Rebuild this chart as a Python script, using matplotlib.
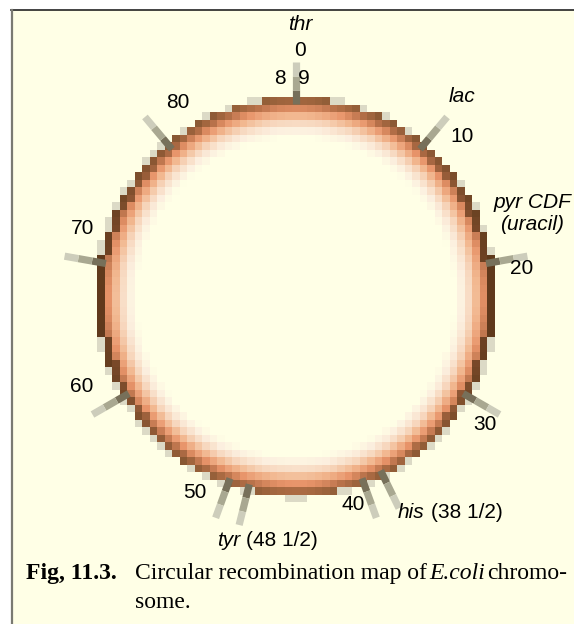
import numpy as np
import matplotlib
matplotlib.use('Agg')
import matplotlib.pyplot as plt
from matplotlib.patches import Rectangle
from matplotlib.colors import LinearSegmentedColormap, to_rgb, to_rgba

# Map data (E. coli map, 90 minutes total)
map_length = 90
scale_marks = [0, 10, 20, 30, 40, 50, 60, 70, 80]
scale_labels = ['0', '10', '20', '30', '40', '50', '60', '70', '80']
gene_names = ['thr', 'lac', 'pyr CDF', 'his', 'tyr']
gene_notes = ['', '', '(uracil)', '(38 1/2)', '(48 1/2)']
gene_marks = [38.5, 48.5]   # genes that get their own tick
end_label = '8  9'

# Layout (pixels)
W, H = 574, 624
cx, cy, R = 296, 297, 199
ring_width = 40
cell = 7.5
tick_in, tick_out = R - 6, R + 36
bg = '#ffffe6'

scale_pos = {'0': (300, 50), '10': (462, 137), '20': (522, 269), '30': (485, 424),
             '40': (353, 505), '50': (195, 493), '60': (82, 387), '70': (83, 228),
             '80': (178, 102)}
gene_pos = {'thr': (300, 25, 'center'), 'lac': (462, 97, 'center'),
            'pyr CDF': (532, 202, 'center'), 'his': (398, 513, 'left'),
            'tyr': (217, 540, 'left')}

fig = plt.figure(figsize=(W / 100, H / 100), dpi=100)
fig.patch.set_facecolor('white')
ax = fig.add_axes([0, 0, 1, 1])
ax.axis('off')

# panel background and frame
ax.add_patch(Rectangle((11, 10), W, H, facecolor=bg, edgecolor='none', zorder=0))
ax.plot([11, W], [10, 10], color='#222222', lw=1.2, zorder=1)
ax.plot([11.5, 11.5], [10, H], color='#7a7a72', lw=1.6, zorder=1)

# pixelated ring
nx, ny = int(W / cell) + 1, int(H / cell) + 1
X, Y = np.meshgrid((np.arange(nx) + 0.5) * cell, (np.arange(ny) + 0.5) * cell)
r = np.hypot(X - cx, Y - cy)
theta = np.arctan2(X - cx, -(Y - cy))
t = (R - r) / ring_width
ring_cmap = LinearSegmentedColormap.from_list('ring', [
    (0.0, '#8e5c36'), (0.17, '#b8724a'), (0.3, '#e8946a'), (0.45, '#f2b890'),
    (0.6, '#f7d6bc'), (0.8, '#fcefdf'), (1.0, bg)])
rgba = ring_cmap(np.clip(t, 0, 1))
side = np.abs(np.sin(theta)) ** 4
outer = (t >= 0) & (t < 0.19)
dark = np.array(to_rgb('#4a2a10'))
w = (side * 0.75)[outer][:, None]
rgba[outer, :3] = rgba[outer, :3] * (1 - w) + dark * w
halo = (t < 0) & (t > -0.08)
rgba[halo] = to_rgba('#dcdac6')
rgba[(t <= -0.08) | (t >= 1), 3] = 0
ax.imshow(rgba, extent=(0, nx * cell, ny * cell, 0), interpolation='nearest', zorder=2)

# tick marks
tick_positions = scale_marks + gene_marks
seg_colors = ['#77705a', '#a9a891', '#cdcdbb']
for m in tick_positions:
    a = np.deg2rad(m / map_length * 360)
    edges = np.linspace(tick_in, tick_out, len(seg_colors) + 1)
    for k, c in enumerate(seg_colors):
        r0, r1 = edges[k], edges[k + 1]
        ax.plot([cx + r0 * np.sin(a), cx + r1 * np.sin(a)],
                [cy - r0 * np.cos(a), cy - r1 * np.cos(a)],
                color=c, lw=5.2, solid_capstyle='butt', zorder=3)

sans = 'Liberation Sans'
fs = 15
for lab in scale_labels:
    x, y = scale_pos[lab]
    ax.text(x, y, lab, fontsize=fs, family=sans, ha='center', va='center', zorder=4)
ax.text(292.5, 78, end_label, fontsize=fs, family=sans, ha='center', va='center', zorder=4)

fig.canvas.draw()
renderer = fig.canvas.get_renderer()
for name, note in zip(gene_names, gene_notes):
    x, y, ha = gene_pos[name]
    if name == 'pyr CDF':
        ax.text(x, y, name, fontsize=fs, family=sans, style='italic', ha='center', va='center')
        ax.text(x, y + 22, note, fontsize=fs, family=sans, style='italic', ha='center', va='center')
        continue
    t1 = ax.text(x, y, name, fontsize=fs, family=sans, style='italic', ha=ha, va='center')
    if note:
        w1 = t1.get_window_extent(renderer).width
        ax.text(x + w1 + fs * 1.39 * 0.28, y, note, fontsize=fs, family=sans,
                ha='left', va='center')

# caption
serif = 'Liberation Serif'
cfs = 17
ax.text(26, 579, 'Fig, 11.3.', fontsize=17, family=serif, weight='bold', va='baseline')
pieces = [('Circular recombination map of', 'normal'), ('E.coli', 'italic'),
          ('chromo-', 'normal')]
x0, x1 = 135, 564
texts = [ax.text(x0, 579, p, fontsize=cfs, family=serif, style=st, va='baseline')
         for p, st in pieces]
widths = [tt.get_window_extent(renderer).width for tt in texts]
gap = max(2.0, (x1 - x0 - sum(widths)) / (len(texts) - 1))
x = x0
for tt, wd in zip(texts, widths):
    tt.set_x(x)
    x += wd + gap
ax.text(135, 608, 'some.', fontsize=cfs, family=serif, va='baseline')

ax.set_xlim(0, W)
ax.set_ylim(H, 0)
ax.set_aspect('auto')
fig.savefig('out.png', dpi=100, facecolor=fig.get_facecolor())
